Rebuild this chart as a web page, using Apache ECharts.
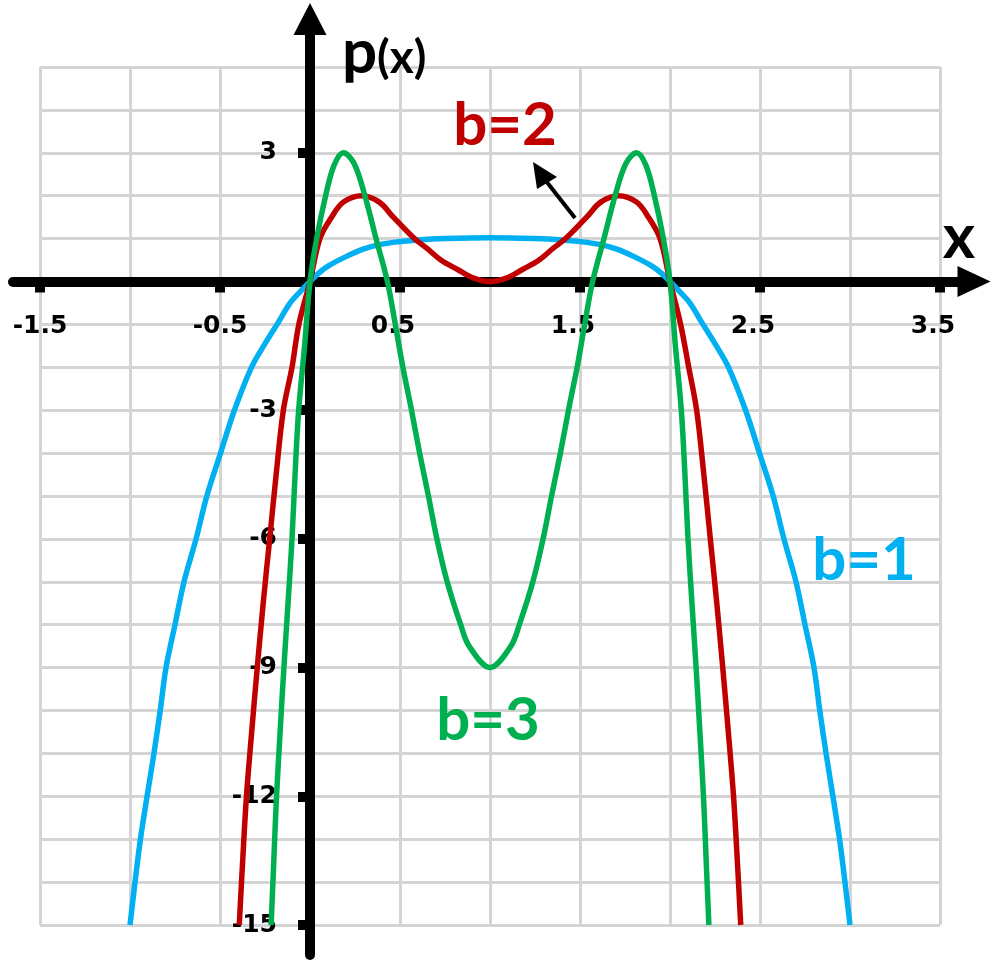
<!DOCTYPE html>
<html>
<head>
<meta charset="utf-8">
<script src="https://cdn.jsdelivr.net/npm/echarts@6/dist/echarts.min.js"></script>
<style>
html,body{margin:0;padding:0;background:#fff;}
#chart{width:1000px;height:966px;}
</style>
</head>
<body>
<div id="chart"></div>
<script>
// Tick labels
const xTickValues = [-1.5, -0.5, 0.5, 1.5, 2.5, 3.5];
const yTickValues = [-15, -12, -9, -6, -3, 3];

// b = 1 (blue)
const b1X = [-1.0, -0.972, -0.942, -0.905, -0.867, -0.832, -0.80, -0.75, -0.70, -0.633, -0.573, -0.497, -0.42, -0.325, -0.25, -0.183, -0.11, -0.05,
  0, 0.05, 0.1, 0.2, 0.3, 0.4, 0.5, 0.6, 0.75, 1.0, 1.25, 1.4, 1.5, 1.6, 1.7, 1.8, 1.9, 1.95, 2.0,
  2.05, 2.11, 2.183, 2.25, 2.325, 2.42, 2.497, 2.573, 2.633, 2.70, 2.75, 2.80, 2.832, 2.867, 2.905, 2.942, 2.972, 3.0];
const b1Y = [-15, -14, -13, -12, -11, -10, -9, -8, -7, -6, -5, -4, -3, -2, -1.45, -1, -0.5, -0.22,
  0, 0.2, 0.36, 0.58, 0.76, 0.87, 0.93, 0.97, 1.0, 1.02, 1.0, 0.97, 0.93, 0.87, 0.76, 0.58, 0.36, 0.2, 0,
  -0.22, -0.5, -1, -1.45, -2, -3, -4, -5, -6, -7, -8, -9, -10, -11, -12, -13, -14, -15];

// b = 2 (red)
const b2X = [-0.393, -0.374, -0.353, -0.324, -0.293, -0.26, -0.224, -0.188, -0.148, -0.10, -0.062,
  0, 0.055, 0.12, 0.185, 0.287, 0.385, 0.463, 0.58, 0.65, 0.727, 0.82, 0.91, 1.0,
  1.09, 1.18, 1.273, 1.35, 1.42, 1.537, 1.615, 1.713, 1.815, 1.88, 1.945, 2.0,
  2.059, 2.104, 2.148, 2.188, 2.224, 2.26, 2.293, 2.324, 2.353, 2.374, 2.393];
const b2Y = [-15, -13.5, -12, -10.5, -9, -7.5, -6, -4.5, -3, -2, -1,
  0, 1.0, 1.5, 1.85, 2.0, 1.85, 1.5, 1.0, 0.77, 0.5, 0.28, 0.08, 0,
  0.08, 0.28, 0.5, 0.77, 1.0, 1.5, 1.85, 2.0, 1.85, 1.5, 1.0, 0,
  -1, -2, -3, -4.5, -6, -7.5, -9, -10.5, -12, -13.5, -15];

// b = 3 (green)
const b3X = [-0.216, -0.201, -0.186, -0.166, -0.145, -0.122, -0.10, -0.083, -0.063, -0.03,
  0, 0.037, 0.087, 0.133, 0.185, 0.245, 0.305, 0.367, 0.43, 0.474, 0.516, 0.564, 0.609, 0.658, 0.705, 0.762, 0.837, 0.884, 1.0,
  1.116, 1.163, 1.238, 1.295, 1.342, 1.391, 1.436, 1.484, 1.526, 1.57, 1.633, 1.695, 1.755, 1.815, 1.867, 1.913, 1.963, 2.0,
  2.03, 2.063, 2.083, 2.10, 2.122, 2.145, 2.166, 2.186, 2.201, 2.216];
const b3Y = [-15, -13.5, -12, -10.5, -9, -7.5, -6, -4.5, -3, -1.5,
  0, 1, 2, 2.7, 3.0, 2.75, 2, 1, 0, -1, -2, -3, -4, -5, -6, -7, -8, -8.5, -9,
  -8.5, -8, -7, -6, -5, -4, -3, -2, -1, 0, 1, 2, 2.75, 3.0, 2.7, 2, 1, 0,
  -1.5, -3, -4.5, -6, -7.5, -9, -10.5, -12, -13.5, -15];

function zip(xs, ys) { return xs.map((x, i) => [x, ys[i]]); }

const chart = echarts.init(document.getElementById('chart'), null, {renderer: 'canvas'});

const gridLine = {show: true, lineStyle: {color: '#d4d4d4', width: 3}};
const labFont = 'Lato';
const shadow = {shadowColor: 'rgba(0,0,0,0.3)', shadowBlur: 3, shadowOffsetX: 2, shadowOffsetY: 2};
const hidden = {axisLine: {show: false, onZero: false}, axisTick: {show: false}, axisLabel: {show: false}, splitLine: {show: false}};
const tickStyle = {fontFamily: 'DejaVu Sans', fontWeight: 'bold', fontSize: 25, color: '#000'};

function curve(name, xs, ys, color) {
  return {
    name: name, type: 'line', xAxisIndex: 0, yAxisIndex: 0,
    data: zip(xs, ys), showSymbol: false, smooth: 0.35,
    lineStyle: {color: color, width: 5.5}, itemStyle: {color: color}, z: 5
  };
}

const gridBase = {containLabel: false, outerBoundsMode: 'none'};
const option = {
  animation: false,
  backgroundColor: '#ffffff',
  grid: [
    Object.assign({left: 40, right: 60, top: 67, bottom: 41}, gridBase),      // main plot
    Object.assign({left: 13, right: 26, top: 67, bottom: 41}, gridBase),      // x axis line + arrow
    Object.assign({left: 40, right: 60, top: 19, bottom: 11}, gridBase),      // y axis line + arrow
    Object.assign({left: 40, right: 60, top: 67, bottom: 684.5}, gridBase),   // x ticks/labels (bottom edge on y=0)
    Object.assign({left: 310, right: 60, top: 67, bottom: 41}, gridBase)      // y ticks/labels (left edge on x=0)
  ],
  xAxis: [
    Object.assign({gridIndex: 0, type: 'value', min: -1.5, max: 3.5, interval: 0.5}, hidden, {splitLine: gridLine}),
    Object.assign({gridIndex: 1, type: 'value', min: 0, max: 1}, hidden, {
      axisLine: {show: true, onZero: true, symbol: ['none', 'triangle'], symbolSize: [31, 33], lineStyle: {color: '#000', width: 10}}
    }),
    Object.assign({gridIndex: 2, type: 'value', min: -1.5, max: 3.5}, hidden),
    Object.assign({gridIndex: 3, type: 'value', min: -1.5, max: 3.5, position: 'bottom'}, hidden, {
      axisTick: {show: true, customValues: xTickValues, length: 11, lineStyle: {color: '#000', width: 10}},
      axisLabel: Object.assign({
        show: true, customValues: xTickValues, margin: 32,
        formatter: function (v) { return v > 0 ? '{p|' + v + '}' : '{n|' + v + '}'; },
        rich: {
          p: Object.assign({padding: [0, 14, 0, 0]}, tickStyle),
          n: Object.assign({}, tickStyle)
        }
      }, tickStyle)
    }),
    Object.assign({gridIndex: 4, type: 'value', min: 0, max: 1}, hidden)
  ],
  yAxis: [
    Object.assign({gridIndex: 0, type: 'value', min: -15, max: 5, interval: 1}, hidden, {splitLine: gridLine}),
    Object.assign({gridIndex: 1, type: 'value', min: -15, max: 5}, hidden),
    Object.assign({gridIndex: 2, type: 'value', min: 0, max: 1}, hidden, {
      axisLine: {show: true, onZero: true, symbol: ['none', 'triangle'], symbolSize: [33, 32], lineStyle: {color: '#000', width: 10}}
    }),
    Object.assign({gridIndex: 3, type: 'value', min: 0, max: 1}, hidden),
    Object.assign({gridIndex: 4, type: 'value', min: -15, max: 5, position: 'left'}, hidden, {
      axisTick: {show: true, customValues: yTickValues, length: 12, lineStyle: {color: '#000', width: 10}},
      axisLabel: Object.assign({
        show: true, customValues: yTickValues, margin: 33,
        formatter: function (v) { return String(v); }
      }, tickStyle)
    })
  ],
  series: [
    curve('b=1', b1X, b1Y, '#00b0f0'),
    curve('b=2', b2X, b2Y, '#c00000'),
    curve('b=3', b3X, b3Y, '#00b050')
  ],
  graphic: [
    {type: 'text', x: 342, y: 53, z: 10, style: {text: 'p', align: 'left', verticalAlign: 'middle', fontFamily: labFont, fontWeight: 'bold', fontSize: 62, fill: '#000'}},
    {type: 'text', x: 377, y: 58, z: 10, style: {text: '(x)', align: 'left', verticalAlign: 'middle', fontFamily: labFont, fontWeight: 'bold', fontSize: 46, fill: '#000'}},
    {type: 'text', x: 959, y: 238, z: 10, style: {text: 'x', align: 'center', verticalAlign: 'middle', fontFamily: labFont, fontWeight: 'bold', fontSize: 62, fill: '#000'}},
    {type: 'text', x: 505, y: 126, z: 10, style: Object.assign({text: 'b=2', align: 'center', verticalAlign: 'middle', fontFamily: labFont, fontWeight: 'bold', fontSize: 60, fill: '#c00000'}, shadow)},
    {type: 'text', x: 864, y: 561, z: 10, style: Object.assign({text: 'b=1', align: 'center', verticalAlign: 'middle', fontFamily: labFont, fontWeight: 'bold', fontSize: 60, fill: '#00b0f0'}, shadow)},
    {type: 'text', x: 488, y: 721, z: 10, style: Object.assign({text: 'b=3', align: 'center', verticalAlign: 'middle', fontFamily: labFont, fontWeight: 'bold', fontSize: 60, fill: '#00b050'}, shadow)},
    {type: 'line', z: 10, shape: {x1: 575, y1: 218, x2: 546, y2: 181}, style: {stroke: '#000', lineWidth: 4}},
    {type: 'polygon', z: 10, shape: {points: [[533, 162], [557, 177], [537, 189]]}, style: {fill: '#000'}}
  ]
};

chart.setOption(option);
</script>
</body>
</html>
